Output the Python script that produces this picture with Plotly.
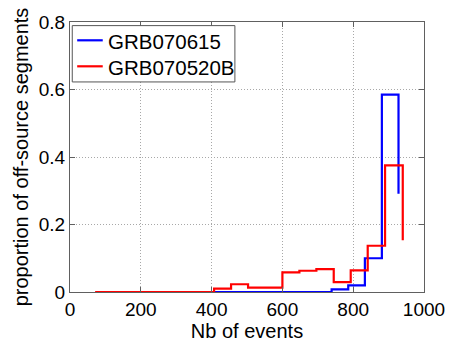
import plotly.graph_objects as go

# Bin edges (number of events) and proportion of off-source segments per bin
grb070615_events = [76, 123, 171, 218, 265, 313, 360, 407, 455, 502, 549,
                    597, 644, 691, 739, 786, 833, 881, 928]
grb070615_prop = [0, 0, 0, 0, 0, 0, 0, 0, 0, 0, 0, 0, 0, 0,
                  0.008, 0.0195, 0.100, 0.585, 0.291]

grb070520b_events = [71, 119, 167, 216, 264, 312, 360, 407, 455, 503, 551,
                     600, 648, 696, 745, 793, 841, 890, 940]
grb070520b_prop = [0, 0, 0, 0, 0, 0, 0, 0.010, 0.023, 0.013, 0.013,
                   0.058, 0.063, 0.068, 0.029, 0.064, 0.137, 0.375, 0.153]

series_names = ["GRB070615", "GRB070520B"]
series_colors = ["#0000FF", "#FF0000"]

x_ticks = [0, 200, 400, 600, 800, 1000]
y_ticks = [0, 0.2, 0.4, 0.6, 0.8]

FONT = "Liberation Sans, Arial, sans-serif"

fig = go.Figure()
for xs, ys, name, color in zip(
        [grb070615_events, grb070520b_events],
        [grb070615_prop, grb070520b_prop],
        series_names, series_colors):
    fig.add_trace(go.Scatter(
        x=xs, y=ys, mode="lines", name=name, showlegend=False,
        line=dict(color=color, width=2.2, shape="hv"),
    ))

axis_common = dict(
    showline=True, linecolor="#606060", linewidth=1, mirror="ticks",
    ticks="inside", ticklen=5, tickcolor="#606060",
    showgrid=True, gridcolor="#A8A8A8", griddash="1px,2px", gridwidth=1,
    zeroline=False, tickfont=dict(family=FONT, size=19, color="black"),
)

fig.update_xaxes(
    range=[0, 1000], tickvals=x_ticks, ticktext=[str(v) for v in x_ticks],
    title=dict(text="Nb of events", font=dict(family=FONT, size=20, color="black"),
               standoff=0),
    **axis_common,
)
fig.update_yaxes(
    range=[0, 0.8], tickvals=y_ticks, ticktext=["0", "0.2", "0.4", "0.6", "0.8"],
    title=dict(text="proportion of off-source segments",
               font=dict(family=FONT, size=20, color="black"), standoff=4),
    **axis_common,
)

# Boxed key in the upper-left corner of the axes (paper coordinates)
legend_box = dict(x0=0.0064, x1=0.4658, y0=0.778, y1=0.9866)
row_y = [0.9322, 0.8359]
shapes = [dict(type="rect", xref="paper", yref="paper", **legend_box,
               line=dict(color="#555555", width=1), fillcolor="white", layer="above")]
annotations = []
for name, color, yy in zip(series_names, series_colors, row_y):
    shapes.append(dict(type="line", xref="paper", yref="paper",
                       x0=0.0203, x1=0.0925, y0=yy, y1=yy,
                       line=dict(color=color, width=2.2), layer="above"))
    annotations.append(dict(xref="paper", yref="paper", x=0.1005, y=yy - 0.004,
                            xanchor="left", yanchor="middle", showarrow=False,
                            text=name, font=dict(family=FONT, size=20.5, color="black")))

fig.update_layout(
    width=457, height=346,
    margin=dict(l=70, r=27, t=17, b=53),
    paper_bgcolor="white", plot_bgcolor="white",
    font=dict(family=FONT, size=19, color="black"),
    shapes=shapes, annotations=annotations,
    showlegend=False,
)

fig.write_html("out.html")
